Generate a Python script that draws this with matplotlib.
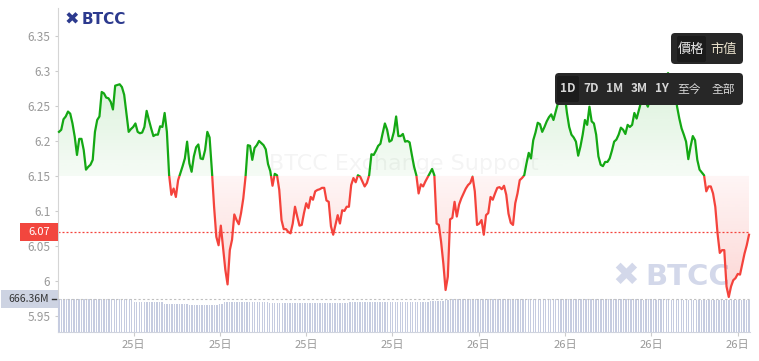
import matplotlib
matplotlib.use("Agg")
import matplotlib.pyplot as plt
import matplotlib.colors as mcolors
import numpy as np
from matplotlib.patches import Rectangle, FancyBboxPatch

plt.rcParams["font.family"] = ["Noto Sans CJK TC", "DejaVu Sans"]

# price series (1D view) left to right
prices = [
    6.213, 6.216, 6.231, 6.235, 6.242, 6.239, 6.225, 6.206, 6.180, 6.203, 6.203, 6.187,
    6.159, 6.163, 6.166, 6.173, 6.213, 6.230, 6.235, 6.270, 6.268, 6.262, 6.261, 6.256,
    6.245, 6.279, 6.280, 6.281, 6.277, 6.266, 6.240, 6.213, 6.217, 6.220, 6.225, 6.213,
    6.211, 6.212, 6.220, 6.243, 6.230, 6.218, 6.207, 6.209, 6.209, 6.221, 6.220, 6.240,
    6.213, 6.151, 6.123, 6.132,
    6.120, 6.144, 6.154, 6.164, 6.175, 6.199, 6.168, 6.156, 6.178, 6.191, 6.195, 6.175,
    6.174, 6.187, 6.213, 6.205, 6.159, 6.106, 6.063, 6.051, 6.079, 6.047, 6.016, 5.995,
    6.044, 6.059, 6.095, 6.087, 6.081, 6.097, 6.118, 6.149, 6.194, 6.193, 6.173, 6.190,
    6.194, 6.200, 6.197, 6.194, 6.188, 6.167, 6.157, 6.136, 6.153, 6.151, 6.130, 6.087,
    6.074, 6.074, 6.070, 6.068,
    6.082, 6.106, 6.092, 6.079, 6.080, 6.097, 6.111, 6.104, 6.120, 6.116, 6.128, 6.130,
    6.131, 6.133, 6.133, 6.115, 6.113, 6.078, 6.066, 6.080, 6.094, 6.082, 6.101, 6.100,
    6.106, 6.106, 6.137, 6.147, 6.141, 6.151, 6.149, 6.142, 6.135, 6.140, 6.151, 6.181,
    6.180, 6.186, 6.193, 6.196, 6.211, 6.225, 6.216, 6.199, 6.201, 6.213, 6.235, 6.207,
    6.207, 6.210, 6.199,
    6.200, 6.198, 6.180, 6.163, 6.151, 6.125, 6.138, 6.135, 6.142, 6.148, 6.154, 6.160,
    6.151, 6.082, 6.080, 6.056, 6.025, 5.987, 6.006, 6.088, 6.090, 6.113, 6.092, 6.109,
    6.118, 6.125, 6.132, 6.137, 6.140, 6.149, 6.128, 6.080, 6.082, 6.087, 6.066, 6.094,
    6.097, 6.120, 6.116, 6.125, 6.133, 6.134, 6.131, 6.136, 6.123, 6.096, 6.083, 6.080,
    6.111, 6.125, 6.144,
    6.147, 6.151, 6.168, 6.183, 6.175, 6.201, 6.212, 6.226, 6.224, 6.213, 6.220, 6.228,
    6.234, 6.238, 6.230, 6.242, 6.254, 6.266, 6.270, 6.266, 6.240, 6.220, 6.209, 6.205,
    6.199, 6.179, 6.192, 6.209, 6.230, 6.223, 6.249, 6.228, 6.225, 6.209, 6.178, 6.166,
    6.164, 6.170, 6.170, 6.175, 6.186, 6.199, 6.202, 6.209, 6.219, 6.216, 6.210, 6.223,
    6.220, 6.223,
    6.240, 6.232, 6.244, 6.256, 6.259, 6.256, 6.249, 6.261, 6.270, 6.276, 6.274, 6.281,
    6.287, 6.291, 6.293, 6.297, 6.290, 6.289, 6.273, 6.249, 6.232, 6.218, 6.209, 6.199,
    6.174, 6.192, 6.207, 6.201, 6.173, 6.159, 6.155, 6.151, 6.128, 6.135, 6.135, 6.125,
    6.106, 6.068, 6.040, 6.044, 6.044, 5.992, 5.977, 5.992, 6.001, 6.004, 6.010, 6.009,
    6.024, 6.039, 6.051, 6.066,
]

# volume bars (millions)
volumes = [
    664, 665, 663, 666, 664, 662, 665, 664, 663, 666, 665, 664, 662, 664, 665, 663,
    664, 666, 665, 663, 664, 662, 664, 665, 663, 664, 662, 661, 660, 658,
    615, 612, 610, 613, 611, 609, 612, 610, 608, 611, 609, 606,
    575, 572, 570, 568, 571, 569, 567, 570, 566, 562,
    552, 550, 548, 551, 549, 547, 550, 548, 546, 549, 551, 553, 556, 560,
    596, 598, 600, 597, 601, 603, 600, 602, 604, 606,
    610, 612, 611, 609, 612, 610, 608, 605,
    584, 582, 580, 583, 581, 579, 582, 580, 578, 581, 579, 577, 580, 582, 579, 581,
    578, 580, 583, 581, 579, 582, 580, 578, 581, 583, 580, 582, 584, 586, 590, 595,
    608, 610, 612, 609, 611, 613, 610, 612, 609, 611, 614, 612, 610, 613, 611, 609,
    612, 614, 611, 613, 610, 612, 615, 613, 611, 614, 612, 610, 613, 615, 612, 614,
    616, 618, 620, 624, 630, 636, 642, 648,
    656, 658, 660, 657, 659, 661, 658, 660, 662, 659, 661, 658, 660, 662, 659, 661,
    663, 660, 662, 659, 661, 663, 660, 662,
    664, 662, 665, 663, 666, 664, 662, 665, 663, 661, 664, 662, 665, 663, 661, 664,
    666, 663, 665, 662, 664, 661, 663, 665, 662, 664, 660, 662, 664, 661, 663, 665,
    662, 660, 663, 661, 664, 662, 659, 661, 663, 660, 662, 658, 660, 662, 659, 661,
    657, 659, 661, 658, 660, 656, 658, 660, 657, 659, 655, 657, 659, 656, 658, 654,
    656, 658, 655, 657, 653, 655, 657, 654, 656, 652, 654, 656, 653, 655, 651, 653,
    655, 652, 654, 650, 652, 654, 651, 653, 649, 651, 653, 650, 652, 648, 650, 652,
]

baseline = 6.15
last_price = 6.07
vol_max = 666.36
vol_label = "666.36M"
hours = 24

y_ticks = [5.95, 6.0, 6.05, 6.1, 6.15, 6.2, 6.25, 6.3, 6.35]
y_tick_labels = ["5.95", "6", "6.05", "6.1", "6.15", "6.2", "6.25", "6.3", "6.35"]
x_tick_hours = [2.6, 5.6, 8.6, 11.6, 14.6, 17.6, 20.6, 23.6]
x_tick_labels = ["25日", "25日", "25日", "25日", "26日", "26日", "26日", "26日"]
mode_buttons = ["價格", "市值"]
range_buttons = ["1D", "7D", "1M", "3M", "1Y", "至今", "全部"]

GREEN = "#14a814"
RED = "#f4433c"
GREY = "#999999"

W, H = 759, 361
L, R, T, B = 58, 750, 8, 332

fig = plt.figure(figsize=(W / 100, H / 100), dpi=100)
fig.patch.set_facecolor("white")
ax = fig.add_axes([L / W, 1 - B / H, (R - L) / W, (B - T) / H])

t = np.linspace(0, hours, len(prices))
p = np.array(prices)
xpad = hours / 690
xlim = (-xpad, hours + xpad)


def grad_fill(ax, x, y, base, color, a_near, a_far, above):
    yy = np.maximum(y, base) if above else np.minimum(y, base)
    poly = ax.fill_between(x, base, yy, facecolor="none", edgecolor="none")
    rgba = np.zeros((256, 1, 4))
    rgba[..., :3] = mcolors.to_rgb(color)
    if above:
        rgba[:, 0, 3] = np.linspace(a_near, a_far, 256)
        extent = [x[0], x[-1], base, yy.max()]
    else:
        rgba[:, 0, 3] = np.linspace(a_far, a_near, 256)
        extent = [x[0], x[-1], yy.min(), base]
    im = ax.imshow(rgba, extent=extent, origin="lower", aspect="auto",
                   interpolation="bilinear", zorder=1)
    im.set_clip_path(poly.get_paths()[0], ax.transData)


grad_fill(ax, t, p, baseline, GREEN, 0.04, 0.16, True)
grad_fill(ax, t, p, baseline, RED, 0.05, 0.22, False)

# line: green above the baseline, red below
for color, lo in [(GREEN, baseline), (RED, baseline - 1)]:
    ln, = ax.plot(t, p, color=color, lw=1.6, zorder=3, solid_joinstyle="round")
    ln.set_clip_path(Rectangle((xlim[0] - 1, lo), hours + 2, 1, transform=ax.transData))

ax.axhline(last_price, color=RED, lw=0.9, ls=(0, (1.6, 1.6)), zorder=2.5)

ax.text(0.5, 0.52, "BTCC Exchange Support", transform=ax.transAxes, ha="center",
        va="center", fontsize=16, color="#000000", alpha=0.045, zorder=0.5,
        family=["DejaVu Sans"])

ax.set_xlim(xlim)
ax.set_ylim(5.927, 6.39)
ax.set_yticks(y_ticks)
ax.set_yticklabels(y_tick_labels)
ax.set_xticks(x_tick_hours)
ax.set_xticklabels(x_tick_labels)
for s in ["top", "right"]:
    ax.spines[s].set_visible(False)
ax.spines["left"].set_color("#d5d5d5")
ax.spines["bottom"].set_color("#d0d4de")
ax.tick_params(axis="y", length=2.5, width=0.8, color="#cccccc", labelcolor=GREY,
               labelsize=8.5, pad=3)
ax.tick_params(axis="x", length=3, width=0.8, color="#cccccc", labelcolor=GREY,
               labelsize=8, pad=3)

# volume strip at the bottom
vax = fig.add_axes([L / W, 1 - B / H, (R - L) / W, (B - 299) / H])
vax.patch.set_visible(False)
vt = np.linspace(0, hours, len(volumes))
vax.bar(vt, volumes, width=hours / len(volumes) * 0.55, color="#c6cce0", lw=0)
vax.axhline(vol_max, color="#c0c0c0", lw=0.8, ls=(0, (2, 2)), clip_on=False)
vax.set_xlim(xlim)
vax.set_ylim(0, vol_max)
vax.axis("off")

# overlay in pixel coordinates for the UI boxes and logos
ov = fig.add_axes([0, 0, 1, 1], zorder=10)
ov.set_xlim(0, W)
ov.set_ylim(H, 0)
ov.patch.set_visible(False)
ov.axis("off")


def to_px(axes, x, y):
    return ov.transData.inverted().transform(axes.transData.transform((x, y)))


# current price tag
py = to_px(ax, 0, last_price)[1]
ov.add_patch(Rectangle((20, py - 9), 38, 18, color="#f2463e", lw=0))
ov.text(39, py, f"{last_price:.2f}", ha="center", va="center", color="white", fontsize=8)

# volume tag
vy = to_px(vax, 0, vol_max)[1]
ov.add_patch(Rectangle((1, vy - 9), 57, 18, color="#cdd3e2", lw=0))
ov.text(29, vy, vol_label, ha="center", va="center", color="#333333", fontsize=7.5)
ov.plot([52, 56], [vy, vy], color="#333333", lw=1)

# logos
ov.text(72, 19.5, "✖", ha="center", va="center", fontsize=12.5, color="#2c3a8e",
        family=["DejaVu Sans"])
ov.text(82, 19.5, "BTCC", ha="left", va="center", fontsize=11, fontweight="bold",
        color="#2c3a8e", family=["DejaVu Sans"])
ax.text(626, 276, "✖", ha="center", va="center", fontsize=23, color="#d3d8ea",
        family=["DejaVu Sans"], transform=ov.transData, zorder=0.6)
ax.text(645, 277, "BTCC", ha="left", va="center", fontsize=21, fontweight="bold",
        color="#d3d8ea", family=["DejaVu Sans"], transform=ov.transData, zorder=0.6)

# price / market cap toggle
ov.add_patch(FancyBboxPatch((671, 33), 72, 31, boxstyle="round,pad=0,rounding_size=4",
                            fc="#272727", ec="none"))
ov.add_patch(FancyBboxPatch((677, 36), 29, 26, boxstyle="round,pad=0,rounding_size=2",
                            fc="#1b1b1b", ec="none"))
for label, cx, col in zip(mode_buttons, [691, 724], ["#e6e6e6", "#e9e1cc"]):
    ov.text(cx, 49, label, ha="center", va="center", fontsize=9.5, color=col)

# range selector
ov.add_patch(FancyBboxPatch((555, 73), 188, 32, boxstyle="round,pad=0,rounding_size=4",
                            fc="#272727", ec="none"))
ov.add_patch(FancyBboxPatch((557, 76), 22, 26, boxstyle="round,pad=0,rounding_size=2",
                            fc="#1b1b1b", ec="none"))
for i, (label, cx) in enumerate(zip(range_buttons, [568, 591, 615, 639, 662, 689, 723])):
    ov.text(cx, 89, label, ha="center", va="center", fontsize=8.5, color="#d6d6d6",
            fontweight="bold" if i < 5 else "normal")

fig.savefig("out.png", dpi=100, facecolor="white")
